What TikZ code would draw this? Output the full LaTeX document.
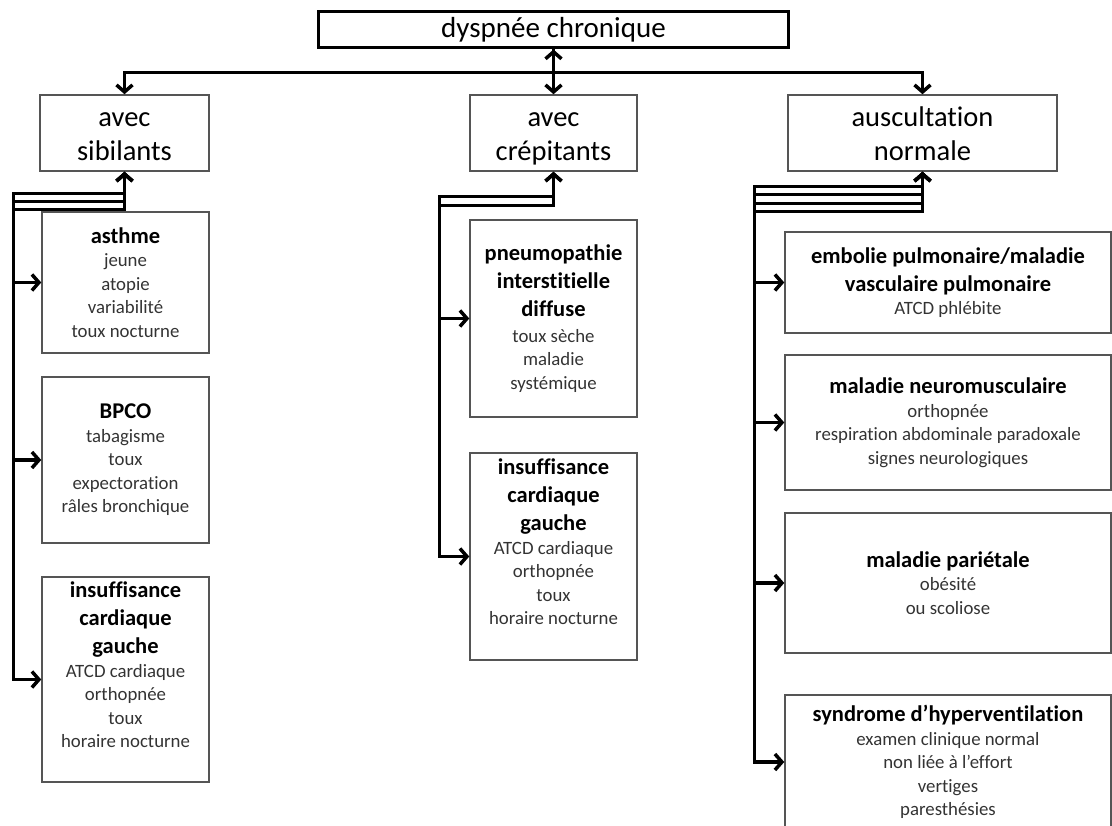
\documentclass[tikz,border=0pt]{standalone}
\usepackage{fontspec}
\setmainfont{Carlito}[Ligatures=NoCommon]
\usetikzlibrary{arrows.meta}
\definecolor{boxline}{HTML}{555555}
\definecolor{bodytext}{HTML}{333333}
\newcommand{\titlefont}{\fontsize{29}{35}\selectfont}
\newcommand{\catfont}{\fontsize{28.5}{34}\selectfont}
\newcommand{\catstrut}{\rule{0pt}{31.8pt}}
\newcommand{\boxbody}{\fontsize{18.8}{23.5}\selectfont}
\newcommand{\boxhead}{\fontsize{22.5}{28}\selectfont\bfseries\color{black}}
\begin{document}
\begin{tikzpicture}[x=1pt,y=-1pt,
    titlebox/.style={draw=black,line width=3pt,font=\titlefont,inner sep=0pt},
    catbox/.style={draw=boxline,line width=1.5pt,font=\catfont,align=center,inner sep=0pt},
    illbox/.style={draw=boxline,line width=1.5pt,font=\boxbody,text=bodytext,align=center,inner sep=0pt},
    barb/.tip={Straight Barb[length=7pt,width=16pt]}]
  \useasboundingbox (0,0) rectangle (1112,826);

  % top level
  \node[titlebox,minimum width=470pt,minimum height=36pt] (dc) at (553.5,30) {dyspnée chronique};
  \node[catbox,minimum width=169pt,minimum height=74pt] (sib) at (124.5,133) {\catstrut avec\\\strut sibilants};
  \node[catbox,minimum width=167pt,minimum height=74pt] (crep) at (553.5,133) {\catstrut avec\\\strut crépitants};
  \node[catbox,minimum width=269pt,minimum height=74pt] (ausc) at (922.5,133) {\catstrut auscultation\\\strut normale};

  % avec sibilants
  \node[illbox,minimum width=167pt,minimum height=141pt] (asthme) at (125.5,282.5)
    {{\boxhead asthme}\\jeune\\atopie\\variabilité\\toux nocturne};
  \node[illbox,minimum width=167pt,minimum height=166pt] (bpco) at (125.5,460)
    {{\boxhead BPCO}\\tabagisme\\toux\\expectoration\\râles bronchique};
  \node[illbox,minimum width=167pt,minimum height=205pt] (icgL) at (125.5,679.5)
    {{\boxhead insuffisance}\\[4.5pt]{\boxhead cardiaque}\\[4.5pt]{\boxhead gauche}\\ATCD cardiaque\\orthopnée\\toux\\horaire nocturne\\[6pt]};

  % avec crepitants
  \node[illbox,minimum width=167pt,minimum height=197pt] (pid) at (553.5,318.5)
    {{\boxhead pneumopathie}\\[4.5pt]{\boxhead interstitielle}\\[4.5pt]{\boxhead diffuse}\\[2pt]toux sèche\\maladie\\systémique};
  \node[illbox,minimum width=167pt,minimum height=207pt] (icgM) at (553.5,556.5)
    {{\boxhead insuffisance}\\[4.5pt]{\boxhead cardiaque}\\[4.5pt]{\boxhead gauche}\\ATCD cardiaque\\orthopnée\\toux\\horaire nocturne\\[6pt]};

  % auscultation normale
  \node[illbox,minimum width=326pt,minimum height=101pt] (embol) at (948,282.5)
    {{\boxhead embolie pulmonaire/maladie}\\[4.5pt]{\boxhead vasculaire pulmonaire}\\ATCD phlébite};
  \node[illbox,minimum width=326pt,minimum height=135pt] (neuro) at (948,422.5)
    {{\boxhead maladie neuromusculaire}\\orthopnée\\respiration abdominale paradoxale\\signes neurologiques};
  \node[illbox,minimum width=326pt,minimum height=140pt] (pariet) at (948,583)
    {{\boxhead maladie pariétale}\\obésité\\ou scoliose};
  \node[illbox,minimum width=326pt,minimum height=134pt] (hypervent) at (948,762)
    {{\boxhead syndrome d’hyperventilation}\\examen clinique normal\\non liée à l’effort\\vertiges\\paresthésies};

  \begin{scope}[line width=3.5pt]
    \draw[-barb] (dc.south) -- ++(0,23) -| (sib.north);
    \draw[-barb] (dc.south) -- ++(0,23) -| (ausc.north);
    \draw[barb-barb] (dc.south) -- (crep.north);
    \draw[barb-barb] (asthme.west) -- ++(-28,0) |- ([yshift=-22pt]sib.south) -- (sib.south);
    \draw[barb-barb] (bpco.west) -- ++(-28,0) |- ([yshift=-30pt]sib.south) -- (sib.south);
    \draw[barb-barb] (icgL.west) -- ++(-28,0) |- ([yshift=-38pt]sib.south) -- (sib.south);
    \draw[barb-barb] (pid.west) -- ++(-30,0) |- ([yshift=-25pt]crep.south) -- (crep.south);
    \draw[barb-barb] (icgM.west) -- ++(-30,0) |- ([yshift=-34pt]crep.south) -- (crep.south);
    \draw[barb-barb] (embol.west) -- ++(-30,0) |- ([yshift=-15pt]ausc.south) -- (ausc.south);
    \draw[barb-barb] (neuro.west) -- ++(-30,0) |- ([yshift=-23pt]ausc.south) -- (ausc.south);
    \draw[barb-barb] (pariet.west) -- ++(-30,0) |- ([yshift=-32pt]ausc.south) -- (ausc.south);
    \draw[barb-barb] (hypervent.west) -- ++(-30,0) |- ([yshift=-40pt]ausc.south) -- (ausc.south);
  \end{scope}
\end{tikzpicture}
\end{document}
